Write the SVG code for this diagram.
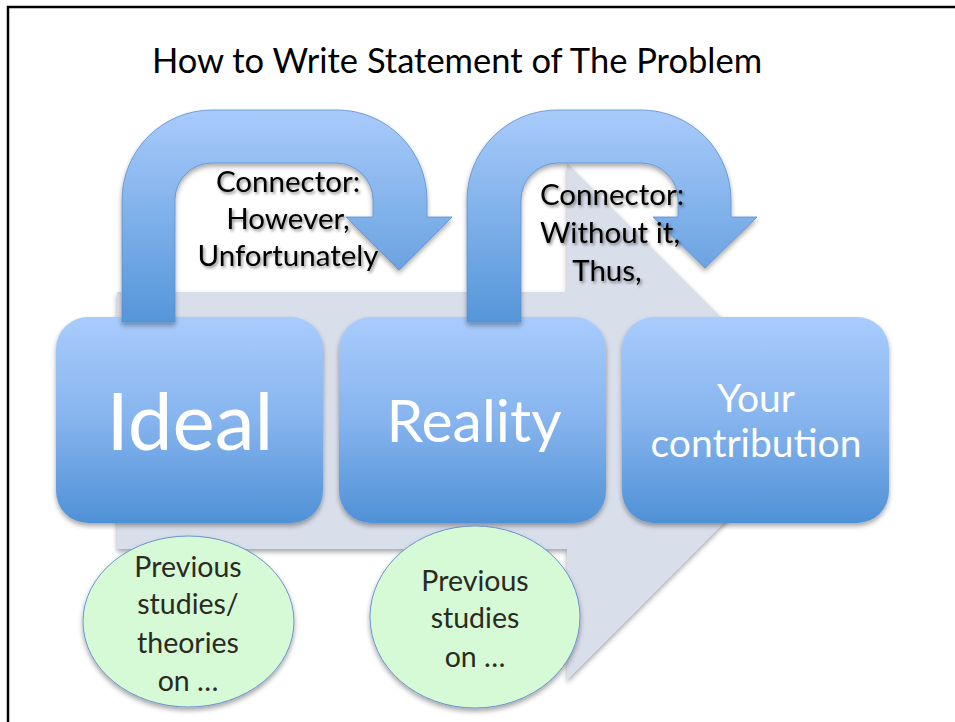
<svg xmlns="http://www.w3.org/2000/svg" width="955" height="722" viewBox="0 0 955 722">
<defs>
<linearGradient id="boxGrad" x1="0" y1="0" x2="0" y2="1">
<stop offset="0" stop-color="#A9CCFD"/>
<stop offset="0.5" stop-color="#86B4EE"/>
<stop offset="1" stop-color="#4F91D6"/>
</linearGradient>
<linearGradient id="uGrad" x1="0" y1="0" x2="0" y2="1">
<stop offset="0" stop-color="#A9CBFB"/>
<stop offset="1" stop-color="#5596D9"/>
</linearGradient>
<filter id="shadow" x="-10%" y="-10%" width="120%" height="125%">
<feDropShadow dx="0" dy="3" stdDeviation="2.5" flood-color="#000" flood-opacity="0.35"/>
</filter>
<filter id="tshadow" x="-10%" y="-20%" width="120%" height="150%">
<feDropShadow dx="1.5" dy="2" stdDeviation="1.5" flood-color="#000" flood-opacity="0.45"/>
</filter>
</defs>
<style>
.box{fill:url(#boxGrad);filter:url(#shadow);}
.uarrow{fill:url(#uGrad);stroke:#5C8FD0;stroke-width:0.8;filter:url(#shadow);}
.btxt{font-family:Lato,"Liberation Sans",sans-serif;fill:#fff;text-anchor:middle;}
.ctxt{font-family:Lato,"Liberation Sans",sans-serif;font-size:29.5px;fill:#000;text-anchor:middle;filter:url(#tshadow);}
.ell{fill:#D5FAD5;stroke:#6A93CF;stroke-width:1;filter:url(#shadow);}
.etxt{font-family:Lato,"Liberation Sans",sans-serif;font-size:28.5px;fill:#2A2A22;text-anchor:middle;}
</style>
<rect width="955" height="722" fill="#fff"/>
<path d="M8,722 L8,7 L955,7" fill="none" stroke="#000" stroke-width="2.5"/>
<text x="457" y="73" font-family="Lato,'Liberation Sans',sans-serif" font-size="34.5" fill="#000" text-anchor="middle">How to Write Statement of The Problem</text>

<g id="background-arrow">
<path d="M117,292 L567,292 L567,163 L825,421 L567,680 L567,549 L117,549 Z" fill="#D9DEEB" filter="url(#shadow)"/>
</g>

<g id="ideal">
<rect class="box" x="56" y="317" width="267" height="206" rx="32"/>
<text class="btxt" x="190" y="450" font-size="80">Ideal</text>
</g>
<g id="reality">
<rect class="box" x="339" y="317" width="267" height="206" rx="32"/>
<text class="btxt" x="474" y="442" font-size="59">Reality</text>
</g>
<g id="contribution">
<rect class="box" x="622" y="317" width="267" height="206" rx="32"/>
<text class="btxt" x="756" y="412" font-size="39">Your</text>
<text class="btxt" x="756" y="457" font-size="39">contribution</text>
</g>

<g id="connectors">
<g id="connector1">
<path class="uarrow" d="M122,322 L122,200 A90,90 0 0 1 212,110 L337,110 A90,90 0 0 1 427,200 L427,217 L452,217 L399,270 L346,217 L373,217 L373,200 A37,37 0 0 0 336,163 L212,163 A37,37 0 0 0 175,200 L175,322 Z"/>
<text class="ctxt" x="288" y="192">Connector:</text>
<text class="ctxt" x="288" y="229">However,</text>
<text class="ctxt" x="288" y="266">Unfortunately</text>
</g>
<g id="connector2">
<path class="uarrow" d="M467,322 L467,200 A90,90 0 0 1 557,110 L641,110 A90,90 0 0 1 731,200 L731,217 L757,217 L705,268 L653,217 L678,217 L678,200 A37,37 0 0 0 641,163 L557,163 A37,37 0 0 0 521,200 L521,322 Z"/>
<text class="ctxt" x="612" y="205">Connector:</text>
<text class="ctxt" x="610" y="243">Without it,</text>
<text class="ctxt" x="607" y="281">Thus,</text>
</g>
</g>

<g id="prev1">
<ellipse class="ell" cx="188.5" cy="621.5" rx="105.5" ry="85.5"/>
<text class="etxt" x="188" y="577">Previous</text>
<text class="etxt" x="188" y="614">studies/</text>
<text class="etxt" x="188" y="653">theories</text>
<text class="etxt" x="188" y="691">on …</text>
</g>
<g id="prev2">
<ellipse class="ell" cx="475" cy="617" rx="105" ry="91"/>
<text class="etxt" x="475" y="591">Previous</text>
<text class="etxt" x="475" y="628">studies</text>
<text class="etxt" x="475" y="667">on …</text>
</g>
</svg>
